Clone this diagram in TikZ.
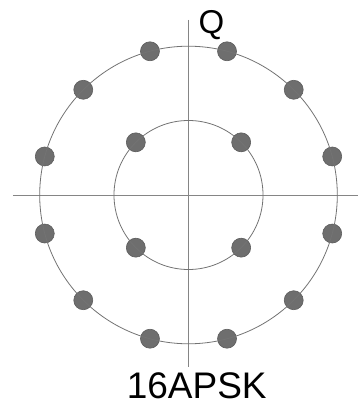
\documentclass[tikz,border=0pt]{standalone}
\usepackage{fontspec}
\setmainfont{Liberation Sans}
\begin{document}
\begin{tikzpicture}[x=1pt,y=1pt,
  axisline/.style={draw=black!48, line width=0.8pt},
  ringline/.style={draw=black!55, line width=0.8pt},
  symdot/.style={circle, fill=black!57, draw=black!64, line width=0.6pt, minimum size=19pt, inner sep=0pt},
  lbl/.style={inner sep=0pt, anchor=base, text=black}]
\useasboundingbox (-188.5,-208) rectangle (169.5,195);
% axes
\coordinate (xl) at (-175.5,0);
\coordinate (xr) at (169.5,0);
\coordinate (yt) at (0,175);
\coordinate (yb) at (0,-171.5);
\draw[axisline] (xl) -- (xr);
\draw[axisline] (yt) -- (yb);
% inner ring dots
\foreach \k in {0,...,3}
  \node[symdot] (in\k) at ({45+90*\k}:74.5) {};
% outer ring dots
\foreach \k in {0,...,11}
  \node[symdot] (out\k) at ({15+30*\k}:148.8) {};
% rings (drawn over the dots)
\coordinate (o) at (0,0);
\draw[ringline] (o) circle (74.5);
\draw[ringline] (o) circle (148.8);
% labels
\node[lbl, font=\fontsize{33}{33}\selectfont] (q) at (23,161.5) {Q};
\node[lbl, font=\fontsize{37}{37}\selectfont] (name) at (8.2,-203.5) {16APSK};
\end{tikzpicture}
\end{document}
